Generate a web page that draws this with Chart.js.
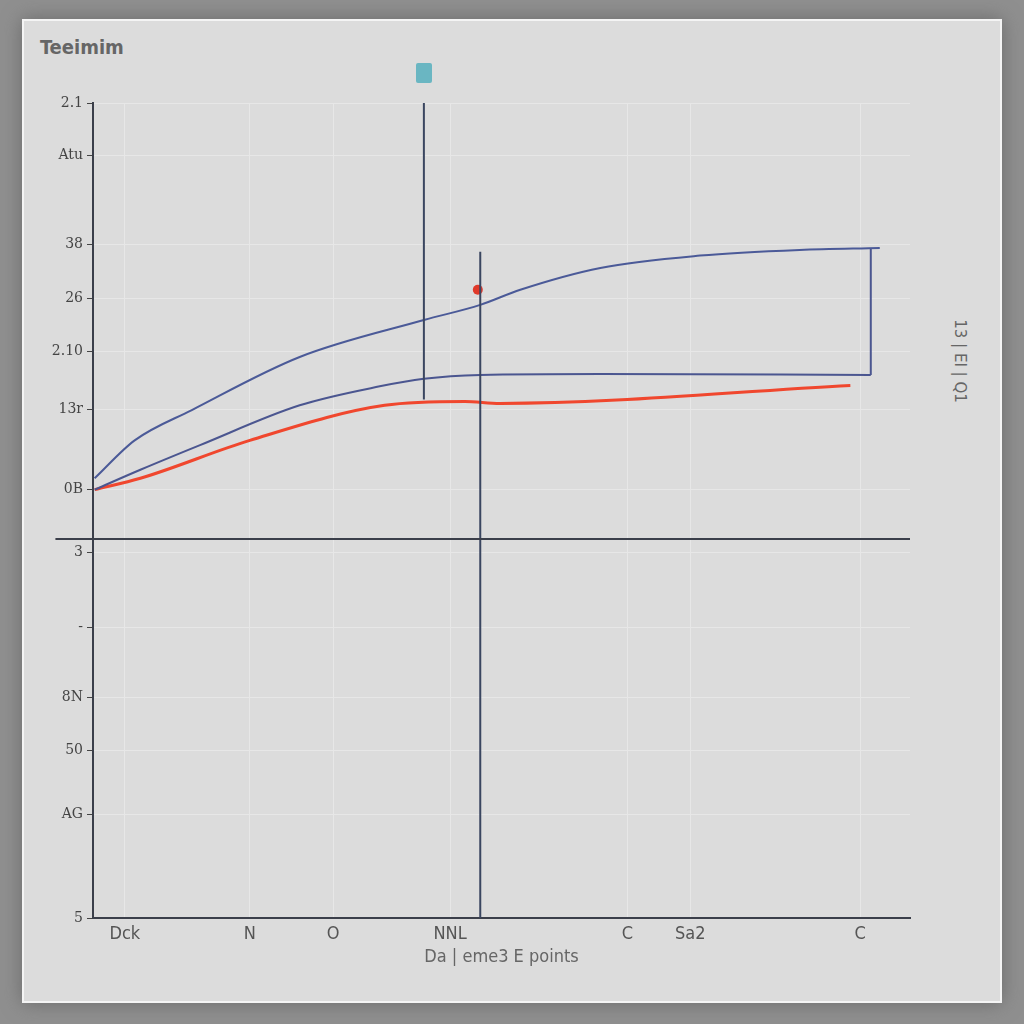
<!DOCTYPE html>
<html>
<head>
<meta charset="utf-8">
<script src="https://cdn.jsdelivr.net/npm/chart.js@4/dist/chart.umd.min.js"></script>
<style>
  html, body { margin: 0; padding: 0; }
  body { width: 1024px; height: 1024px; background: #8f8f8f; position: relative; overflow: hidden; font-family: "Liberation Sans", Arial, sans-serif; }
  #panel { position: absolute; left: 22px; top: 19px; width: 976px; height: 980px; background: #dcdcdc; border: 2px solid #f4f4f4; box-shadow: 0 0 18px #6a6a6a; }
  #chart { position: absolute; left: 0; top: 0; }
  #title { position: absolute; left: 40px; top: 35px; font: bold 20px "DejaVu Sans Condensed", "Liberation Sans", sans-serif; color: #666; }
  #mark { position: absolute; left: 416px; top: 63px; width: 16px; height: 20px; background: #6ab6c2; border-radius: 2px; }
  #side { position: absolute; left: 905px; top: 352px; width: 110px; text-align: center; transform: rotate(90deg); font: 15px "DejaVu Sans", sans-serif; color: #666; }
</style>
</head>
<body>
<div id="panel"></div>
<div id="title">Teeimim</div>
<div id="mark"></div>
<div id="side">13 | EI | Q1</div>
<canvas id="chart" width="1024" height="1024"></canvas>
<script>
// tick labels
const yTickValues = [46, 40.5, 31.1, 25.4, 19.8, 13.7, 5.2, -1.4, -9.3, -16.7, -22.3, -29.1, -40];
const yTickLabels = ['2.1', 'Atu', '38', '26', '2.10', '13r', '0B', '3', '-', '8N', '50', 'AG', '5'];
const xTickValues = [3.9, 19.2, 29.4, 43.7, 65.4, 73.1, 93.9];
const xTickLabels = ['Dck', 'N', 'O', 'NNL', 'C', 'Sa2', 'C'];

// series
const upperX = [0.2, 5.1, 12.1, 25.3, 40.5, 47.4, 52.3, 62.1, 74.3, 86.5, 96.3];
const upperY = [6.4, 10.4, 13.6, 19.2, 23.1, 24.7, 26.3, 28.6, 29.9, 30.5, 30.7];
const lowerX = [0.2, 5.8, 13.1, 25.3, 35.1, 40.5, 47.4, 62.1, 95.2];
const lowerY = [5.2, 7.3, 9.9, 14.1, 16.1, 16.9, 17.3, 17.4, 17.3];
const boxX = [95.2, 95.2];
const boxY = [17.3, 30.7];
const redX = [0.2, 5.8, 19.2, 35.7, 45.5, 49.8, 92.7];
const redY = [5.2, 6.4, 10.4, 14.1, 14.5, 14.3, 16.2];
const dotX = [47.1];
const dotY = [26.3];
const markerX = [40.5, 40.5];
const markerY = [46, 14.7];
const splitX = [47.4, 47.4];
const splitY = [30.3, -40];
const zeroX = [-4.6, 100];
const zeroY = [0, 0];

const pts = (xs, ys) => xs.map((x, i) => ({ x: x, y: ys[i] }));

const lineSet = (data, color, width, extra) => Object.assign({
  data: data,
  borderColor: color,
  backgroundColor: color,
  borderWidth: width,
  pointRadius: 0,
  cubicInterpolationMode: 'monotone',
  fill: false
}, extra || {});

const tickFont = '"DejaVu Sans Condensed", "Liberation Sans", sans-serif';

new Chart(document.getElementById('chart'), {
  type: 'line',
  data: {
    datasets: [
      lineSet(pts(zeroX, zeroY), '#3b3f4a', 2, { clip: false }),
      lineSet(pts(markerX, markerY), '#3a4660', 2),
      lineSet(pts(splitX, splitY), '#3a4660', 2),
      lineSet(pts(upperX, upperY), '#4b5a98', 2),
      lineSet(pts(lowerX, lowerY), '#4b5690', 2),
      lineSet(pts(boxX, boxY), '#4b5690', 2),
      lineSet(pts(redX, redY), '#f0472e', 3),
      lineSet(pts(dotX, dotY), '#e0392a', 0, { showLine: false, pointRadius: 5 })
    ]
  },
  options: {
    responsive: false,
    animation: false,
    layout: { padding: { top: 103, right: 114, left: 0, bottom: 52 } },
    plugins: { legend: { display: false }, tooltip: { enabled: false } },
    scales: {
      x: {
        type: 'linear',
        min: 0,
        max: 100,
        afterFit(scale) { scale.height = 54; },
        afterBuildTicks(scale) { scale.ticks = xTickValues.map(v => ({ value: v })); },
        ticks: {
          autoSkip: false,
          maxRotation: 0,
          padding: 6,
          color: '#555',
          font: { family: tickFont, size: 18 },
          callback: (v, i) => xTickLabels[i]
        },
        grid: { color: '#e7e7e7', drawTicks: false },
        border: { color: '#3b3f4a', width: 2 },
        title: {
          display: true,
          text: 'Da | eme3 E points',
          color: '#666',
          padding: { top: 4 },
          font: { family: tickFont, size: 18 }
        }
      },
      y: {
        type: 'linear',
        min: -40,
        max: 46,
        afterFit(scale) { scale.width = 93; },
        afterBuildTicks(scale) { scale.ticks = yTickValues.map(v => ({ value: v })); },
        ticks: {
          autoSkip: false,
          padding: 4,
          color: '#444',
          font: { family: '"DejaVu Serif", "Liberation Serif", serif', size: 14 },
          callback: (v, i) => yTickLabels[i]
        },
        grid: { color: '#e7e7e7', tickLength: 6, tickColor: '#444' },
        border: { color: '#3b3f4a', width: 2 }
      }
    }
  }
});
</script>
</body>
</html>
